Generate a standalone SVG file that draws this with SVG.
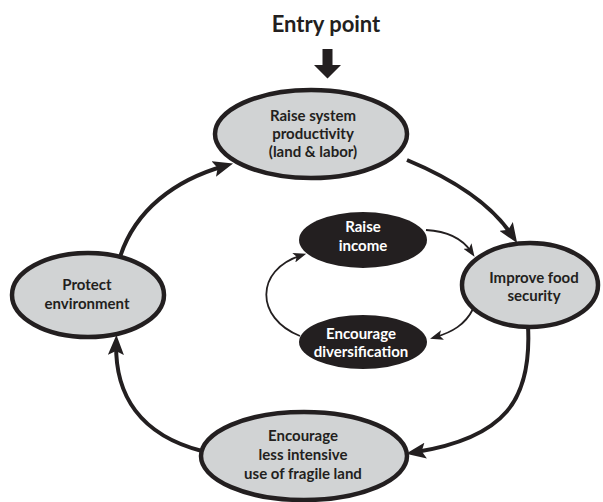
<svg xmlns="http://www.w3.org/2000/svg" width="603" height="502" viewBox="0 0 603 502">
<style>
.node{fill:#d1d3d4;stroke:#231f20;stroke-width:4.5}
.dark{fill:#231f20;stroke:none}
.t{font-family:Lato,"Liberation Sans",sans-serif;font-weight:bold;font-size:15px;fill:#231f20;text-anchor:middle}
.tw{fill:#ffffff}
.thick{fill:none;stroke:#231f20;stroke-width:4}
.thin{fill:none;stroke:#231f20;stroke-width:1.8}
</style>
<defs>
<marker id="ah" markerUnits="userSpaceOnUse" viewBox="0 0 20 16" refX="11" refY="8" markerWidth="20" markerHeight="16" orient="auto">
<path d="M0,0 L20,8 L0,16 L4,8 z" fill="#231f20"/>
</marker>
<marker id="ahs" markerUnits="userSpaceOnUse" viewBox="0 0 13 10" refX="7" refY="5" markerWidth="13" markerHeight="10" orient="auto">
<path d="M0,0 L13,5 L0,10 L3,5 z" fill="#231f20"/>
</marker>
</defs>

<g id="entry">
<text class="t" x="326" y="32" style="font-size:22px">Entry point</text>
<path d="M322.5,49 H332.5 V65 H341 L327.5,78.5 L314,65 H322.5 z" fill="#231f20"/>
</g>

<g id="connectors">
<path class="thick" d="M407,160 C455,180 492,205 512.2,235.6" marker-end="url(#ah)"/>
<path class="thick" d="M528,326 C532,400 505,438 414.8,452.3" marker-end="url(#ah)"/>
<path class="thick" d="M202,451 C140,435 115,395 116.2,343.9" marker-end="url(#ah)"/>
<path class="thick" d="M120,257 C135,210 175,180 224.4,166" marker-end="url(#ah)"/>
<path class="thin" d="M426,230 C445,231 462,238 471.2,251.8" marker-end="url(#ahs)"/>
<path class="thin" d="M473,309 C465,325 452,332 435.8,337" marker-end="url(#ahs)"/>
<path class="thin" d="M300,336 C255,318 255,270 300.5,255.6" marker-end="url(#ahs)"/>
</g>

<g id="productivity">
<ellipse class="node" cx="311" cy="134" rx="96" ry="44"/>
<text class="t" x="313" y="121">Raise system</text>
<text class="t" x="313" y="139">productivity</text>
<text class="t" x="313" y="157">(land &amp; labor)</text>
</g>

<g id="food">
<ellipse class="node" cx="530" cy="285" rx="68" ry="42"/>
<text class="t" x="534" y="283">Improve food</text>
<text class="t" x="534" y="301">security</text>
</g>

<g id="fragile">
<ellipse class="node" cx="304" cy="456" rx="103" ry="44"/>
<text class="t" x="303" y="441">Encourage</text>
<text class="t" x="303" y="460">less intensive</text>
<text class="t" x="303" y="479">use of fragile land</text>
</g>

<g id="environment">
<ellipse class="node" cx="88" cy="295" rx="76" ry="42"/>
<text class="t" x="87" y="290">Protect</text>
<text class="t" x="87" y="308.5">environment</text>
</g>

<g id="income">
<ellipse class="dark" cx="363" cy="240" rx="64" ry="28"/>
<text class="t tw" x="363" y="232">Raise</text>
<text class="t tw" x="363" y="251">income</text>
</g>

<g id="diversification">
<ellipse class="dark" cx="363" cy="342" rx="64" ry="27"/>
<text class="t tw" x="361" y="339">Encourage</text>
<text class="t tw" x="361" y="357">diversification</text>
</g>
</svg>
